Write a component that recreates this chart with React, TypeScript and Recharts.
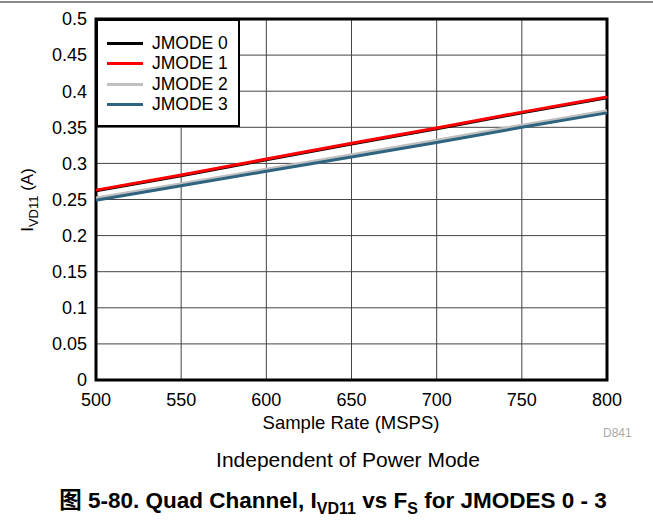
import { LineChart, Line, XAxis, YAxis, CartesianGrid, ReferenceArea } from 'recharts';

const sampleRates = [500, 550, 600, 650, 700, 750, 800];
const jmode0 = [0.262, 0.283, 0.305, 0.327, 0.348, 0.370, 0.391];
const jmode1 = [0.263, 0.284, 0.306, 0.328, 0.349, 0.371, 0.392];
const jmode2 = [0.252, 0.272, 0.292, 0.312, 0.332, 0.353, 0.373];
const jmode3 = [0.249, 0.269, 0.289, 0.309, 0.329, 0.350, 0.370];
const xTicks = [500, 550, 600, 650, 700, 750, 800];
const yTicks = [0, 0.05, 0.1, 0.15, 0.2, 0.25, 0.3, 0.35, 0.4, 0.45, 0.5];

const seriesInfo = [
  { key: 'j0', name: 'JMODE 0', color: '#000000' },
  { key: 'j1', name: 'JMODE 1', color: '#ff0000' },
  { key: 'j2', name: 'JMODE 2', color: '#c0c0c0' },
  { key: 'j3', name: 'JMODE 3', color: '#2e6480' },
];

const FONT = '"Liberation Sans", Arial, "Noto Sans CJK SC", sans-serif';

const data = sampleRates.map((fs, i) => ({
  fs,
  j0: jmode0[i],
  j1: jmode1[i],
  j2: jmode2[i],
  j3: jmode3[i],
}));

function LegendBox() {
  return (
    <div
      style={{
        position: 'absolute',
        left: 96,
        top: 19,
        background: '#fff',
        border: '2px solid #000',
        width: 144,
        height: 108,
        boxSizing: 'border-box',
        padding: '12px 0 0 9px',
        fontFamily: FONT,
        fontSize: 17.5,
        color: '#000',
      }}
    >
      {seriesInfo.map((s) => (
        <div key={s.key} style={{ display: 'flex', alignItems: 'center', height: 20.5 }}>
          <div style={{ width: 36, height: 3, background: s.color, marginRight: 9 }} />
          <span>{s.name}</span>
        </div>
      ))}
    </div>
  );
}

function YLabel() {
  return (
    <text
      transform="translate(33,200) rotate(-90)"
      textAnchor="middle"
      fontFamily={FONT}
      fontSize={17}
      fill="#000"
    >
      I<tspan fontSize={13} dy={5}>VD11</tspan>
      <tspan dy={-5}> (A)</tspan>
    </text>
  );
}

export default function App() {
  return (
    <div style={{ position: 'absolute', left: 0, top: 0, width: 653, height: 523, background: '#fff' }}>
      <div style={{ position: 'absolute', left: 0, top: 1, width: 653, height: 2, background: '#8a8a8a' }} />
      <LineChart
        width={653}
        height={523}
        data={data}
        margin={{ top: 19, right: 46, bottom: 0, left: 0 }}
      >
        <CartesianGrid stroke="#444" strokeWidth={1} />
        <XAxis
          dataKey="fs"
          type="number"
          domain={[500, 800]}
          ticks={xTicks}
          axisLine={false}
          tickLine={false}
          height={143}
          tick={{ fontSize: 18, fill: '#000', fontFamily: FONT }}
          dy={5}
        />
        <YAxis
          type="number"
          domain={[0, 0.5]}
          ticks={yTicks}
          axisLine={false}
          tickLine={false}
          width={96}
          tick={{ fontSize: 18, fill: '#000', fontFamily: FONT }}
          tickFormatter={(v: number) => String(v)}
          dx={-1}
          label={<YLabel />}
        />
        {seriesInfo.map((s) => (
          <Line
            key={s.key}
            type="linear"
            dataKey={s.key}
            name={s.name}
            stroke={s.color}
            strokeWidth={3}
            dot={false}
            isAnimationActive={false}
          />
        ))}
        <ReferenceArea
          x1={500}
          x2={800}
          y1={0}
          y2={0.5}
          fill="none"
          stroke="#000"
          strokeWidth={3}
          ifOverflow="visible"
        />
      </LineChart>
      <LegendBox />
      <div
        style={{
          position: 'absolute',
          left: 0,
          width: 702,
          top: 412,
          textAlign: 'center',
          fontFamily: FONT,
          fontSize: 18.5,
          color: '#000',
        }}
      >
        Sample Rate (MSPS)
      </div>
      <div
        style={{
          position: 'absolute',
          left: 603,
          top: 426,
          fontFamily: FONT,
          fontSize: 12,
          color: '#aaa',
        }}
      >
        D841
      </div>
      <div
        style={{
          position: 'absolute',
          left: 0,
          width: 696,
          top: 448,
          textAlign: 'center',
          fontFamily: FONT,
          fontSize: 21,
          color: '#000',
        }}
      >
        Independent of Power Mode
      </div>
      <div
        style={{
          position: 'absolute',
          left: 0,
          width: 666,
          top: 482,
          textAlign: 'center',
          fontFamily: FONT,
          fontSize: 22.5,
          fontWeight: 'bold',
          color: '#000',
        }}
      >
        图 5-80. Quad Channel, I<sub style={{ fontSize: 16, lineHeight: 0 }}>VD11</sub> vs F<sub style={{ fontSize: 16, lineHeight: 0 }}>S</sub> for JMODES 0 - 3
      </div>
    </div>
  );
}
